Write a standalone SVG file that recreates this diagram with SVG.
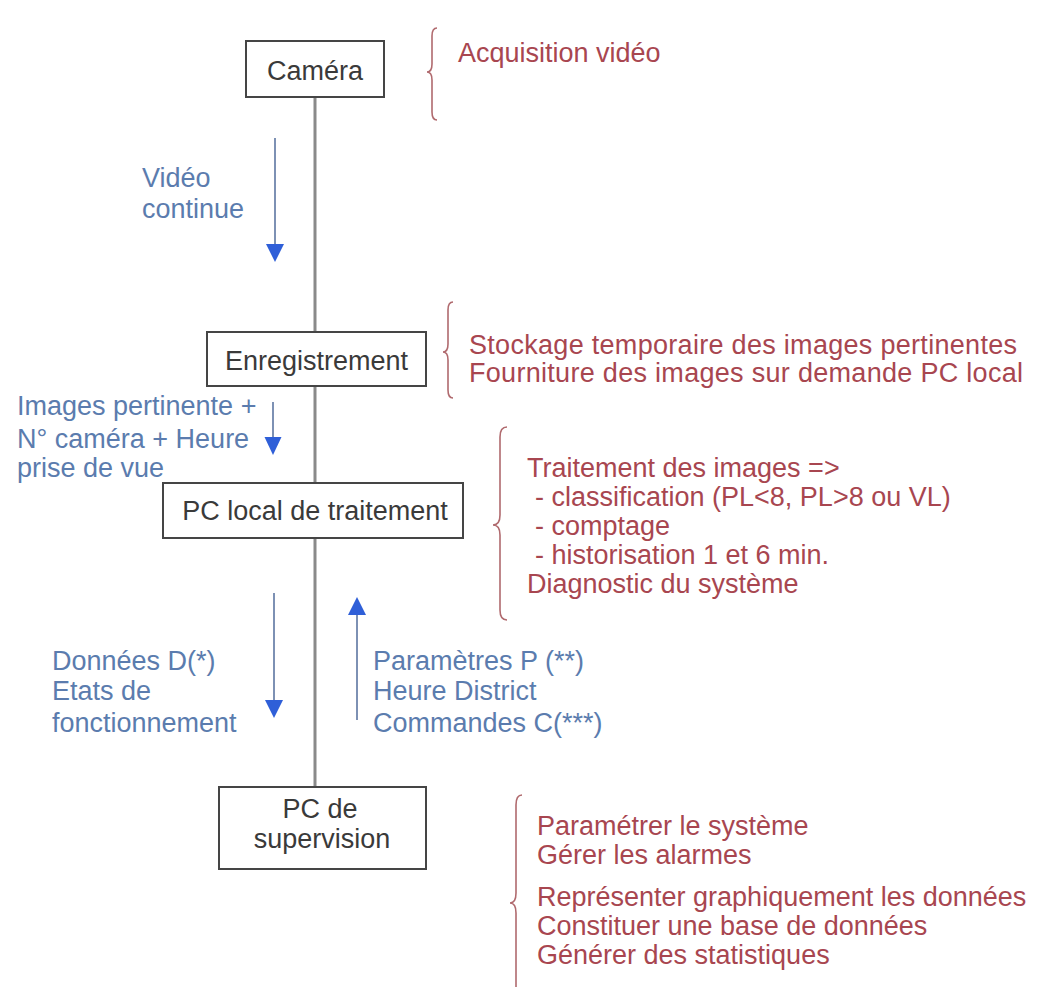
<svg xmlns="http://www.w3.org/2000/svg" width="1041" height="987" viewBox="0 0 1041 987">
<style>
.box{fill:#fff;stroke:#454545;stroke-width:2}
.bt{font-family:"Liberation Sans",Arial,sans-serif;font-size:27px;fill:#3a3a3a}
.red{font-family:"Liberation Sans",Arial,sans-serif;font-size:27px;fill:#a84650}
.blue{font-family:"Liberation Sans",Arial,sans-serif;font-size:27px;fill:#5b7cae}
.brace{fill:none;stroke:#b06a6e;stroke-width:1.6}
.aline{stroke:#7d91b4;stroke-width:2}
.ahead{fill:#2f5fd8}
.main{stroke:#8a8a8a;stroke-width:3}
</style>
<rect width="1041" height="987" fill="#fff"/>
<g id="connectors">
<line class="main" x1="315" y1="97" x2="315" y2="787"/>
<line class="aline" x1="275" y1="138" x2="275" y2="246"/>
<polygon class="ahead" points="266,244 284,244 275,262"/>
<line class="aline" x1="273" y1="402" x2="273" y2="439"/>
<polygon class="ahead" points="264.5,437 281.5,437 273,455"/>
<line class="aline" x1="274" y1="593" x2="274" y2="702"/>
<polygon class="ahead" points="265,700 283,700 274,718"/>
<line class="aline" x1="357" y1="613" x2="357" y2="720"/>
<polygon class="ahead" points="348,615 366,615 357,597"/>
</g>
<g id="camera">
<rect class="box" x="246" y="41" width="138" height="56"/>
<text class="bt" x="315" y="80" text-anchor="middle">Caméra</text>
</g>
<g id="enregistrement">
<rect class="box" x="207" y="332" width="219" height="54"/>
<text class="bt" x="316.5" y="370" text-anchor="middle">Enregistrement</text>
</g>
<g id="pc-local">
<rect class="box" x="163" y="483" width="300" height="55"/>
<text class="bt" x="315" y="520" text-anchor="middle">PC local de traitement</text>
</g>
<g id="pc-supervision">
<rect class="box" x="219" y="787" width="207" height="82"/>
<text class="bt" x="320" y="818" text-anchor="middle">PC de</text>
<text class="bt" x="322" y="848" text-anchor="middle">supervision</text>
</g>
<g id="labels-flow">
<text class="blue" x="142" y="187">Vidéo</text>
<text class="blue" x="142" y="218">continue</text>
<text class="blue" x="17" y="415">Images pertinente +</text>
<text class="blue" x="17" y="448">N° caméra + Heure</text>
<text class="blue" x="17" y="477">prise de vue</text>
<text class="blue" x="52" y="670">Données D(*)</text>
<text class="blue" x="52" y="700">Etats de</text>
<text class="blue" x="52" y="732">fonctionnement</text>
<text class="blue" x="373" y="670">Paramètres P (**)</text>
<text class="blue" x="373" y="700">Heure District</text>
<text class="blue" x="373" y="732">Commandes C(***)</text>
</g>
<g id="note-camera">
<path class="brace" d="M437,28 Q432,28 432,36 L432,64 Q432,72 427,72 Q432,72 432,80 L432,112 Q432,120 437,120"/>
<text class="red" x="458" y="62">Acquisition vidéo</text>
</g>
<g id="note-enregistrement">
<path class="brace" d="M453,302 Q448,302 448,310 L448,344 Q448,352 443,352 Q448,352 448,360 L448,390 Q448,398 453,398"/>
<text class="red" x="469" y="354" textLength="548" lengthAdjust="spacing">Stockage temporaire des images pertinentes</text>
<text class="red" x="469" y="382" textLength="554" lengthAdjust="spacing">Fourniture des images sur demande PC local</text>
</g>
<g id="note-pc-local">
<path class="brace" d="M507,427 Q500,427 500,437 L500,515 Q500,525 493,525 Q500,525 500,535 L500,610 Q500,620 507,620"/>
<text class="red" x="527" y="477">Traitement des images =&gt;</text>
<text class="red" x="535" y="506">- classification (PL&lt;8, PL&gt;8 ou VL)</text>
<text class="red" x="535" y="535">- comptage</text>
<text class="red" x="535" y="564">- historisation 1 et 6 min.</text>
<text class="red" x="527" y="593">Diagnostic du système</text>
</g>
<g id="note-supervision">
<path class="brace" d="M522,795 Q516,795 516,805 L516,893 Q516,903 510,903 Q516,903 516,913 L516,990"/>
<text class="red" x="537" y="835">Paramétrer le système</text>
<text class="red" x="537" y="864">Gérer les alarmes</text>
<text class="red" x="537" y="906">Représenter graphiquement les données</text>
<text class="red" x="537" y="935">Constituer une base de données</text>
<text class="red" x="537" y="964">Générer des statistiques</text>
</g>
</svg>
